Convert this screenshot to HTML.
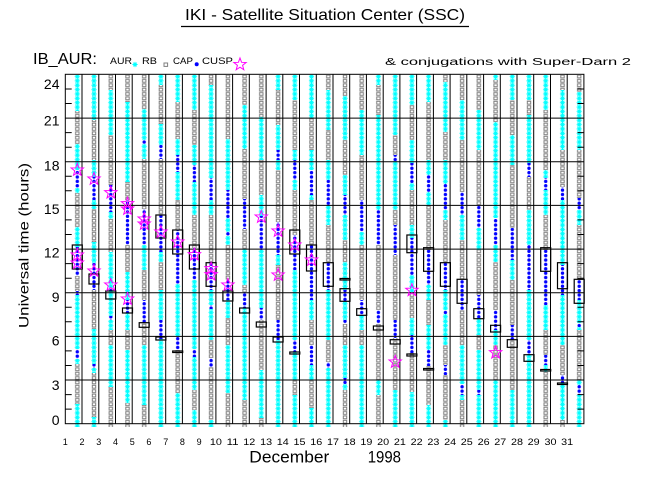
<!DOCTYPE html>
<html><head><meta charset="utf-8"><style>
html,body{margin:0;padding:0;background:#fff;}
svg{display:block}
text{font-family:"Liberation Sans",sans-serif;fill:#000;}
.c{fill:url(#pc)}.g{fill:url(#pg)}.b{fill:url(#pb)}
.bx{fill:none;stroke:#000;stroke-width:1.2}
</style></head><body>
<svg width="650" height="500" viewBox="0 0 650 500" xmlns="http://www.w3.org/2000/svg" xmlns:xlink="http://www.w3.org/1999/xlink">
<defs>
<pattern id="pc" patternUnits="userSpaceOnUse" x="-10" y="74.3" width="20" height="4.37">
<path d="M7.4 2.185H12.6M10 0V4.37M8.2 0.4L11.8 4M11.8 0.4L8.2 4" stroke="#00ffff" stroke-width="1" fill="none"/>
</pattern>
<pattern id="pg" patternUnits="userSpaceOnUse" x="-10" y="74.3" width="20" height="4.37">
<rect x="8.3" y="0.8" width="3.4" height="2.8" fill="#fff" stroke="#7f7f7f" stroke-width="1"/>
</pattern>
<pattern id="pb" patternUnits="userSpaceOnUse" x="-10" y="74.3" width="20" height="4.37">
<circle cx="10" cy="2.185" r="1.7" fill="#0000ff"/>
</pattern>
<path id="s" d="M0,-6.5 L1.59,-2.18 L6.18,-2.01 L2.57,0.83 L3.82,5.26 L0,2.7 L-3.82,5.26 L-2.57,0.83 L-6.18,-2.01 L-1.59,-2.18 Z" fill="none" stroke="#ff00ff" stroke-width="1"/>
</defs>
<rect width="650" height="500" fill="#fff"/>

<text x="185" y="20" font-size="16" textLength="280" lengthAdjust="spacingAndGlyphs">IKI - Satellite Situation Center (SSC)</text>
<line x1="181" y1="26.5" x2="469" y2="26.5" stroke="#000" stroke-width="1.2"/>

<text x="33" y="64" font-size="15.5" textLength="64" lengthAdjust="spacingAndGlyphs">IB_AUR:</text>
<text x="110" y="64" font-size="9.5" textLength="22" lengthAdjust="spacingAndGlyphs">AUR</text>
<path d="M132.4 64.5H137.6M135 61.9V67.1M133.2 62.7L136.8 66.3M136.8 62.7L133.2 66.3" stroke="#00ffff" stroke-width="1"/>
<text x="142" y="64" font-size="9.5" textLength="15" lengthAdjust="spacingAndGlyphs">RB</text>
<rect x="164" y="63" width="3.6" height="3.4" fill="#fff" stroke="#7f7f7f"/>
<text x="173" y="64" font-size="9.5" textLength="20" lengthAdjust="spacingAndGlyphs">CAP</text>
<circle cx="196.7" cy="64.3" r="2" fill="#0000ff"/>
<text x="202" y="64" font-size="9.5" textLength="31" lengthAdjust="spacingAndGlyphs">CUSP</text>
<use xlink:href="#s" x="240" y="64.5"/>
<text x="385" y="65" font-size="10" textLength="246" lengthAdjust="spacingAndGlyphs">&amp; conjugations with Super-Darn 2</text>

<g transform="translate(77.3 0)">
<path class="c" d="M-3.5 75h7V111h-7zM-3.5 144h7V170h-7zM-3.5 188h7V193h-7zM-3.5 227h7V247h-7zM-3.5 295h7V349h-7zM-3.5 359h7V364h-7zM-3.5 404h7V427h-7z"/>
<path class="g" d="M-3.5 111h7V144h-7zM-3.5 193h7V227h-7zM-3.5 276h7V291h-7zM-3.5 364h7V404h-7z"/>
<path class="b" d="M-3.5 170h7V188h-7zM-3.5 247h7V276h-7zM-3.5 291h7V295h-7zM-3.5 349h7V359h-7z"/>
</g>
<g transform="translate(94.0 0)">
<path class="c" d="M-3.5 75h7V120h-7zM-3.5 160h7V177h-7zM-3.5 200h7V209h-7zM-3.5 242h7V263h-7zM-3.5 329h7V364h-7zM-3.5 368h7V373h-7zM-3.5 417h7V427h-7z"/>
<path class="g" d="M-3.5 120h7V160h-7zM-3.5 209h7V242h-7zM-3.5 290h7V329h-7zM-3.5 373h7V417h-7z"/>
<path class="b" d="M-3.5 177h7V200h-7zM-3.5 263h7V290h-7zM-3.5 364h7V368h-7z"/>
</g>
<g transform="translate(110.8 0)">
<path class="c" d="M-3.5 90h7V135h-7zM-3.5 212h7V219h-7zM-3.5 252h7V288h-7zM-3.5 291h7V316h-7zM-3.5 320h7V330h-7zM-3.5 345h7V387h-7z"/>
<path class="g" d="M-3.5 75h7V90h-7zM-3.5 135h7V185h-7zM-3.5 219h7V252h-7zM-3.5 330h7V345h-7zM-3.5 387h7V427h-7z"/>
<path class="b" d="M-3.5 185h7V212h-7zM-3.5 288h7V291h-7zM-3.5 316h7V320h-7z"/>
</g>
<g transform="translate(127.5 0)">
<path class="c" d="M-3.5 102h7V182h-7zM-3.5 272h7V300h-7zM-3.5 313h7V330h-7zM-3.5 350h7V403h-7z"/>
<path class="g" d="M-3.5 75h7V102h-7zM-3.5 182h7V200h-7zM-3.5 245h7V272h-7zM-3.5 330h7V350h-7zM-3.5 403h7V427h-7z"/>
<path class="b" d="M-3.5 200h7V245h-7zM-3.5 300h7V313h-7z"/>
</g>
<g transform="translate(144.2 0)">
<path class="c" d="M-3.5 109h7V140h-7zM-3.5 144h7V159h-7zM-3.5 245h7V270h-7zM-3.5 345h7V405h-7z"/>
<path class="g" d="M-3.5 75h7V109h-7zM-3.5 159h7V209h-7zM-3.5 270h7V300h-7zM-3.5 323h7V345h-7zM-3.5 405h7V427h-7z"/>
<path class="b" d="M-3.5 140h7V144h-7zM-3.5 209h7V245h-7zM-3.5 300h7V323h-7z"/>
</g>
<g transform="translate(160.9 0)">
<path class="c" d="M-3.5 75h7V85h-7zM-3.5 124h7V145h-7zM-3.5 252h7V262h-7zM-3.5 290h7V320h-7zM-3.5 339h7V427h-7z"/>
<path class="g" d="M-3.5 85h7V124h-7zM-3.5 159h7V215h-7zM-3.5 262h7V290h-7z"/>
<path class="b" d="M-3.5 145h7V159h-7zM-3.5 215h7V252h-7zM-3.5 320h7V339h-7z"/>
</g>
<g transform="translate(177.7 0)">
<path class="c" d="M-3.5 75h7V102h-7zM-3.5 139h7V155h-7zM-3.5 172h7V200h-7zM-3.5 284h7V336h-7zM-3.5 393h7V427h-7z"/>
<path class="g" d="M-3.5 102h7V139h-7zM-3.5 200h7V230h-7zM-3.5 350h7V393h-7z"/>
<path class="b" d="M-3.5 155h7V172h-7zM-3.5 230h7V284h-7zM-3.5 336h7V350h-7z"/>
</g>
<g transform="translate(194.4 0)">
<path class="c" d="M-3.5 75h7V110h-7zM-3.5 145h7V165h-7zM-3.5 182h7V215h-7zM-3.5 280h7V349h-7zM-3.5 357h7V390h-7zM-3.5 410h7V427h-7z"/>
<path class="g" d="M-3.5 110h7V145h-7zM-3.5 215h7V248h-7zM-3.5 390h7V410h-7z"/>
<path class="b" d="M-3.5 165h7V182h-7zM-3.5 248h7V280h-7zM-3.5 349h7V357h-7z"/>
</g>
<g transform="translate(211.1 0)">
<path class="c" d="M-3.5 85h7V178h-7zM-3.5 200h7V215h-7zM-3.5 290h7V305h-7zM-3.5 309h7V340h-7zM-3.5 420h7V427h-7z"/>
<path class="g" d="M-3.5 75h7V85h-7zM-3.5 215h7V262h-7zM-3.5 340h7V358h-7zM-3.5 367h7V420h-7z"/>
<path class="b" d="M-3.5 178h7V200h-7zM-3.5 262h7V290h-7zM-3.5 305h7V309h-7zM-3.5 358h7V367h-7z"/>
</g>
<g transform="translate(227.9 0)">
<path class="c" d="M-3.5 139h7V190h-7zM-3.5 218h7V232h-7zM-3.5 236h7V245h-7zM-3.5 300h7V318h-7zM-3.5 345h7V393h-7z"/>
<path class="g" d="M-3.5 75h7V139h-7zM-3.5 245h7V280h-7zM-3.5 318h7V345h-7zM-3.5 393h7V427h-7z"/>
<path class="b" d="M-3.5 190h7V218h-7zM-3.5 232h7V236h-7zM-3.5 280h7V300h-7z"/>
</g>
<g transform="translate(244.6 0)">
<path class="c" d="M-3.5 105h7V149h-7zM-3.5 249h7V285h-7zM-3.5 308h7V400h-7z"/>
<path class="g" d="M-3.5 75h7V105h-7zM-3.5 149h7V199h-7zM-3.5 229h7V249h-7zM-3.5 285h7V292h-7zM-3.5 400h7V427h-7z"/>
<path class="b" d="M-3.5 199h7V229h-7zM-3.5 292h7V308h-7z"/>
</g>
<g transform="translate(261.3 0)">
<path class="c" d="M-3.5 117h7V160h-7zM-3.5 195h7V216h-7zM-3.5 250h7V308h-7zM-3.5 370h7V418h-7z"/>
<path class="g" d="M-3.5 75h7V117h-7zM-3.5 160h7V195h-7zM-3.5 320h7V370h-7zM-3.5 418h7V427h-7z"/>
<path class="b" d="M-3.5 216h7V250h-7zM-3.5 308h7V320h-7z"/>
</g>
<g transform="translate(278.1 0)">
<path class="c" d="M-3.5 75h7V90h-7zM-3.5 125h7V150h-7zM-3.5 160h7V170h-7zM-3.5 255h7V265h-7zM-3.5 340h7V427h-7z"/>
<path class="g" d="M-3.5 90h7V125h-7zM-3.5 170h7V222h-7zM-3.5 265h7V320h-7z"/>
<path class="b" d="M-3.5 150h7V160h-7zM-3.5 222h7V255h-7zM-3.5 320h7V340h-7z"/>
</g>
<g transform="translate(294.8 0)">
<path class="c" d="M-3.5 75h7V100h-7zM-3.5 150h7V160h-7zM-3.5 180h7V190h-7zM-3.5 270h7V340h-7zM-3.5 352h7V380h-7zM-3.5 395h7V427h-7z"/>
<path class="g" d="M-3.5 100h7V150h-7zM-3.5 190h7V235h-7zM-3.5 380h7V395h-7z"/>
<path class="b" d="M-3.5 160h7V180h-7zM-3.5 235h7V270h-7zM-3.5 340h7V352h-7z"/>
</g>
<g transform="translate(311.5 0)">
<path class="c" d="M-3.5 75h7V118h-7zM-3.5 150h7V170h-7zM-3.5 195h7V200h-7zM-3.5 300h7V320h-7zM-3.5 365h7V380h-7zM-3.5 408h7V427h-7z"/>
<path class="g" d="M-3.5 118h7V150h-7zM-3.5 200h7V245h-7zM-3.5 320h7V345h-7zM-3.5 380h7V408h-7z"/>
<path class="b" d="M-3.5 170h7V195h-7zM-3.5 245h7V300h-7zM-3.5 345h7V365h-7z"/>
</g>
<g transform="translate(328.3 0)">
<path class="c" d="M-3.5 90h7V130h-7zM-3.5 160h7V180h-7zM-3.5 205h7V225h-7zM-3.5 290h7V340h-7zM-3.5 368h7V427h-7z"/>
<path class="g" d="M-3.5 75h7V90h-7zM-3.5 130h7V160h-7zM-3.5 225h7V262h-7zM-3.5 340h7V362h-7z"/>
<path class="b" d="M-3.5 180h7V205h-7zM-3.5 262h7V290h-7zM-3.5 362h7V368h-7z"/>
</g>
<g transform="translate(345.0 0)">
<path class="c" d="M-3.5 96h7V140h-7zM-3.5 175h7V195h-7zM-3.5 215h7V240h-7zM-3.5 262h7V290h-7zM-3.5 301h7V320h-7zM-3.5 345h7V378h-7zM-3.5 384h7V390h-7z"/>
<path class="g" d="M-3.5 75h7V96h-7zM-3.5 140h7V175h-7zM-3.5 240h7V262h-7zM-3.5 324h7V345h-7zM-3.5 390h7V427h-7z"/>
<path class="b" d="M-3.5 195h7V215h-7zM-3.5 290h7V301h-7zM-3.5 320h7V324h-7zM-3.5 378h7V384h-7z"/>
</g>
<g transform="translate(361.7 0)">
<path class="c" d="M-3.5 110h7V155h-7zM-3.5 232h7V245h-7zM-3.5 315h7V330h-7zM-3.5 345h7V427h-7z"/>
<path class="g" d="M-3.5 75h7V110h-7zM-3.5 155h7V200h-7zM-3.5 245h7V300h-7zM-3.5 330h7V345h-7z"/>
<path class="b" d="M-3.5 200h7V232h-7zM-3.5 300h7V315h-7z"/>
</g>
<g transform="translate(378.4 0)">
<path class="c" d="M-3.5 75h7V85h-7zM-3.5 115h7V210h-7zM-3.5 380h7V395h-7z"/>
<path class="g" d="M-3.5 85h7V115h-7zM-3.5 245h7V310h-7zM-3.5 324h7V380h-7zM-3.5 395h7V427h-7z"/>
<path class="b" d="M-3.5 210h7V245h-7zM-3.5 310h7V324h-7z"/>
</g>
<g transform="translate(395.2 0)">
<path class="c" d="M-3.5 75h7V135h-7zM-3.5 161h7V210h-7zM-3.5 390h7V427h-7z"/>
<path class="g" d="M-3.5 135h7V155h-7zM-3.5 210h7V225h-7zM-3.5 255h7V320h-7zM-3.5 338h7V390h-7z"/>
<path class="b" d="M-3.5 155h7V161h-7zM-3.5 225h7V255h-7zM-3.5 320h7V338h-7z"/>
</g>
<g transform="translate(411.9 0)">
<path class="c" d="M-3.5 75h7V105h-7zM-3.5 140h7V163h-7zM-3.5 183h7V190h-7zM-3.5 225h7V238h-7zM-3.5 275h7V292h-7zM-3.5 318h7V335h-7zM-3.5 392h7V427h-7z"/>
<path class="g" d="M-3.5 105h7V140h-7zM-3.5 190h7V225h-7zM-3.5 292h7V318h-7zM-3.5 353h7V392h-7z"/>
<path class="b" d="M-3.5 163h7V183h-7zM-3.5 238h7V275h-7zM-3.5 335h7V353h-7z"/>
</g>
<g transform="translate(428.6 0)">
<path class="c" d="M-3.5 75h7V102h-7zM-3.5 160h7V175h-7zM-3.5 192h7V205h-7zM-3.5 285h7V300h-7zM-3.5 325h7V350h-7zM-3.5 405h7V427h-7z"/>
<path class="g" d="M-3.5 102h7V160h-7zM-3.5 205h7V250h-7zM-3.5 300h7V325h-7zM-3.5 366h7V405h-7z"/>
<path class="b" d="M-3.5 175h7V192h-7zM-3.5 250h7V285h-7zM-3.5 350h7V366h-7z"/>
</g>
<g transform="translate(445.4 0)">
<path class="c" d="M-3.5 82h7V132h-7zM-3.5 160h7V184h-7zM-3.5 210h7V220h-7zM-3.5 290h7V310h-7zM-3.5 314h7V345h-7zM-3.5 420h7V427h-7z"/>
<path class="g" d="M-3.5 75h7V82h-7zM-3.5 132h7V160h-7zM-3.5 220h7V262h-7zM-3.5 345h7V365h-7zM-3.5 375h7V420h-7z"/>
<path class="b" d="M-3.5 184h7V210h-7zM-3.5 262h7V290h-7zM-3.5 310h7V314h-7zM-3.5 365h7V375h-7z"/>
</g>
<g transform="translate(462.1 0)">
<path class="c" d="M-3.5 100h7V140h-7zM-3.5 215h7V240h-7zM-3.5 345h7V384h-7zM-3.5 395h7V400h-7z"/>
<path class="g" d="M-3.5 75h7V100h-7zM-3.5 140h7V192h-7zM-3.5 240h7V280h-7zM-3.5 310h7V345h-7zM-3.5 400h7V427h-7z"/>
<path class="b" d="M-3.5 192h7V215h-7zM-3.5 280h7V310h-7zM-3.5 384h7V395h-7z"/>
</g>
<g transform="translate(478.8 0)">
<path class="c" d="M-3.5 110h7V150h-7zM-3.5 228h7V250h-7zM-3.5 318h7V335h-7zM-3.5 350h7V390h-7zM-3.5 395h7V427h-7z"/>
<path class="g" d="M-3.5 75h7V110h-7zM-3.5 150h7V205h-7zM-3.5 250h7V295h-7zM-3.5 335h7V350h-7z"/>
<path class="b" d="M-3.5 205h7V228h-7zM-3.5 295h7V318h-7zM-3.5 390h7V395h-7z"/>
</g>
<g transform="translate(495.6 0)">
<path class="c" d="M-3.5 75h7V80h-7zM-3.5 122h7V218h-7zM-3.5 245h7V262h-7zM-3.5 330h7V345h-7zM-3.5 380h7V427h-7z"/>
<path class="g" d="M-3.5 80h7V122h-7zM-3.5 262h7V310h-7zM-3.5 345h7V380h-7z"/>
<path class="b" d="M-3.5 218h7V245h-7zM-3.5 310h7V330h-7z"/>
</g>
<g transform="translate(512.3 0)">
<path class="c" d="M-3.5 75h7V100h-7zM-3.5 135h7V165h-7zM-3.5 260h7V280h-7zM-3.5 390h7V427h-7z"/>
<path class="g" d="M-3.5 100h7V135h-7zM-3.5 165h7V228h-7zM-3.5 280h7V325h-7zM-3.5 340h7V390h-7z"/>
<path class="b" d="M-3.5 228h7V260h-7zM-3.5 325h7V340h-7z"/>
</g>
<g transform="translate(529.0 0)">
<path class="c" d="M-3.5 75h7V100h-7zM-3.5 115h7V163h-7zM-3.5 210h7V245h-7zM-3.5 290h7V340h-7zM-3.5 355h7V427h-7z"/>
<path class="g" d="M-3.5 100h7V115h-7zM-3.5 177h7V210h-7z"/>
<path class="b" d="M-3.5 163h7V177h-7zM-3.5 245h7V290h-7zM-3.5 340h7V355h-7z"/>
</g>
<g transform="translate(545.7 0)">
<path class="c" d="M-3.5 75h7V110h-7zM-3.5 170h7V178h-7zM-3.5 190h7V215h-7zM-3.5 305h7V330h-7zM-3.5 365h7V372h-7z"/>
<path class="g" d="M-3.5 110h7V170h-7zM-3.5 215h7V250h-7zM-3.5 330h7V355h-7zM-3.5 372h7V427h-7z"/>
<path class="b" d="M-3.5 178h7V190h-7zM-3.5 250h7V305h-7zM-3.5 355h7V365h-7z"/>
</g>
<g transform="translate(562.5 0)">
<path class="c" d="M-3.5 90h7V150h-7zM-3.5 200h7V265h-7zM-3.5 295h7V345h-7zM-3.5 383h7V420h-7z"/>
<path class="g" d="M-3.5 75h7V90h-7zM-3.5 150h7V187h-7zM-3.5 345h7V375h-7zM-3.5 420h7V427h-7z"/>
<path class="b" d="M-3.5 187h7V200h-7zM-3.5 265h7V295h-7zM-3.5 375h7V383h-7z"/>
</g>
<g transform="translate(579.2 0)">
<path class="c" d="M-3.5 92h7V150h-7zM-3.5 210h7V225h-7zM-3.5 300h7V323h-7zM-3.5 327h7V330h-7zM-3.5 380h7V385h-7zM-3.5 395h7V427h-7z"/>
<path class="g" d="M-3.5 75h7V92h-7zM-3.5 150h7V198h-7zM-3.5 225h7V280h-7zM-3.5 330h7V380h-7z"/>
<path class="b" d="M-3.5 198h7V210h-7zM-3.5 280h7V300h-7zM-3.5 323h7V327h-7zM-3.5 385h7V395h-7z"/>
</g>

<g stroke="#000" stroke-width="1" fill="none">
<rect x="65.3" y="74.3" width="518.6" height="349.4"/>
<path d="M82.0 74.3V423.7M98.8 74.3V423.7M115.5 74.3V423.7M132.2 74.3V423.7M148.9 74.3V423.7M165.7 74.3V423.7M182.4 74.3V423.7M199.1 74.3V423.7M215.9 74.3V423.7M232.6 74.3V423.7M249.3 74.3V423.7M266.1 74.3V423.7M282.8 74.3V423.7M299.5 74.3V423.7M316.3 74.3V423.7M333.0 74.3V423.7M349.7 74.3V423.7M366.4 74.3V423.7M383.2 74.3V423.7M399.9 74.3V423.7M416.6 74.3V423.7M433.4 74.3V423.7M450.1 74.3V423.7M466.8 74.3V423.7M483.6 74.3V423.7M500.3 74.3V423.7M517.0 74.3V423.7M533.7 74.3V423.7M550.5 74.3V423.7M567.2 74.3V423.7"/>
<path d="M65.3 118.1H583.9M65.3 161.7H583.9M65.3 205.4H583.9M65.3 249.1H583.9M65.3 292.7H583.9M65.3 336.4H583.9M65.3 380.0H583.9"/>
<path d="M65.3 89.0h6.4M65.3 103.5h6.4M65.3 132.6h6.4M65.3 147.2h6.4M65.3 176.3h6.4M65.3 190.8h6.4M65.3 219.9h6.4M65.3 234.5h6.4M65.3 263.6h6.4M65.3 278.2h6.4M65.3 307.3h6.4M65.3 321.8h6.4M65.3 350.9h6.4M65.3 365.5h6.4M65.3 394.6h6.4M65.3 409.1h6.4"/>
<path d="M583.9 89.0h-6.4M583.9 103.5h-6.4M583.9 132.6h-6.4M583.9 147.2h-6.4M583.9 176.3h-6.4M583.9 190.8h-6.4M583.9 219.9h-6.4M583.9 234.5h-6.4M583.9 263.6h-6.4M583.9 278.2h-6.4M583.9 307.3h-6.4M583.9 321.8h-6.4M583.9 350.9h-6.4M583.9 365.5h-6.4M583.9 394.6h-6.4M583.9 409.1h-6.4"/>
</g>

<g class="bx">
<rect x="72.3" y="245" width="10" height="24"/>
<rect x="89.0" y="274" width="10" height="10"/>
<rect x="105.8" y="291" width="10" height="8"/>
<rect x="122.5" y="308" width="10" height="5"/>
<rect x="139.2" y="322.7" width="10" height="4.6"/>
<rect x="155.9" y="215" width="10" height="23"/>
<rect x="155.9" y="337" width="10" height="3"/>
<rect x="172.7" y="230" width="10" height="24"/>
<rect x="172.7" y="351" width="10" height="1.5"/>
<rect x="189.4" y="245" width="10" height="24"/>
<rect x="206.1" y="262.7" width="10" height="23.6"/>
<rect x="222.9" y="291" width="10" height="10"/>
<rect x="239.6" y="308" width="10" height="5"/>
<rect x="256.3" y="322" width="10" height="5"/>
<rect x="273.1" y="337" width="10" height="5"/>
<rect x="289.8" y="230" width="10" height="24"/>
<rect x="289.8" y="352" width="10" height="2"/>
<rect x="306.5" y="245" width="10" height="26"/>
<rect x="323.3" y="262.7" width="10" height="23.6"/>
<rect x="340.0" y="278.5" width="10" height="1.5"/>
<rect x="340.0" y="288.7" width="10" height="12.6"/>
<rect x="356.7" y="308.7" width="10" height="6.6"/>
<rect x="373.4" y="326" width="10" height="4"/>
<rect x="390.2" y="339.7" width="10" height="4.3"/>
<rect x="406.9" y="235" width="10" height="17.7"/>
<rect x="406.9" y="354" width="10" height="2"/>
<rect x="423.6" y="247.7" width="10" height="23.6"/>
<rect x="423.6" y="368.5" width="10" height="1.5"/>
<rect x="440.4" y="262.7" width="10" height="23.6"/>
<rect x="457.1" y="279.3" width="10" height="24"/>
<rect x="473.8" y="308.7" width="10" height="10"/>
<rect x="490.6" y="325.3" width="10" height="6.7"/>
<rect x="507.3" y="339.7" width="10" height="7.6"/>
<rect x="524.0" y="354.7" width="10" height="6.6"/>
<rect x="540.7" y="247.7" width="10" height="23.6"/>
<rect x="540.7" y="369.5" width="10" height="1.5"/>
<rect x="557.5" y="262.7" width="10" height="26"/>
<rect x="557.5" y="383" width="10" height="1.5"/>
<rect x="574.2" y="279.3" width="10" height="24"/>
</g>

<use xlink:href="#s" x="77.3" y="170"/>
<use xlink:href="#s" x="77.3" y="255"/>
<use xlink:href="#s" x="77.3" y="263"/>
<use xlink:href="#s" x="94.0" y="179"/>
<use xlink:href="#s" x="94.0" y="271"/>
<use xlink:href="#s" x="110.8" y="192.7"/>
<use xlink:href="#s" x="110.8" y="285"/>
<use xlink:href="#s" x="127.5" y="203.7"/>
<use xlink:href="#s" x="127.5" y="209"/>
<use xlink:href="#s" x="127.5" y="299"/>
<use xlink:href="#s" x="144.2" y="219"/>
<use xlink:href="#s" x="144.2" y="224"/>
<use xlink:href="#s" x="160.9" y="232"/>
<use xlink:href="#s" x="177.7" y="242"/>
<use xlink:href="#s" x="194.4" y="254.7"/>
<use xlink:href="#s" x="211.1" y="268.7"/>
<use xlink:href="#s" x="211.1" y="274.7"/>
<use xlink:href="#s" x="227.9" y="285"/>
<use xlink:href="#s" x="261.3" y="217"/>
<use xlink:href="#s" x="278.1" y="231"/>
<use xlink:href="#s" x="278.1" y="275"/>
<use xlink:href="#s" x="294.8" y="245"/>
<use xlink:href="#s" x="311.5" y="260"/>
<use xlink:href="#s" x="395.2" y="362"/>
<use xlink:href="#s" x="411.9" y="290.3"/>
<use xlink:href="#s" x="495.6" y="352.7"/>

<g font-size="14" text-anchor="end">
<text x="59.5" y="89">24</text>
<text x="59.5" y="125.7">21</text>
<text x="59.5" y="170.7">18</text>
<text x="59.5" y="214">15</text>
<text x="59.5" y="257.7">12</text>
<text x="59.5" y="302">9</text>
<text x="59.5" y="345.5">6</text>
<text x="59.5" y="390">3</text>
<text x="59.5" y="425">0</text>
</g>
<text transform="translate(28.5 245.5) rotate(-90)" font-size="14" text-anchor="middle" textLength="165" lengthAdjust="spacingAndGlyphs">Universal time (hours)</text>

<g font-size="9" text-anchor="middle">
<text x="65.3" y="445">1</text>
<text x="82.0" y="445">2</text>
<text x="98.8" y="445">3</text>
<text x="115.5" y="445">4</text>
<text x="132.2" y="445">5</text>
<text x="148.9" y="445">6</text>
<text x="165.7" y="445">7</text>
<text x="182.4" y="445">8</text>
<text x="199.1" y="445">9</text>
<text x="215.9" y="445" textLength="12" lengthAdjust="spacingAndGlyphs">10</text>
<text x="232.6" y="445" textLength="12" lengthAdjust="spacingAndGlyphs">11</text>
<text x="249.3" y="445" textLength="12" lengthAdjust="spacingAndGlyphs">12</text>
<text x="266.1" y="445" textLength="12" lengthAdjust="spacingAndGlyphs">13</text>
<text x="282.8" y="445" textLength="12" lengthAdjust="spacingAndGlyphs">14</text>
<text x="299.5" y="445" textLength="12" lengthAdjust="spacingAndGlyphs">15</text>
<text x="316.3" y="445" textLength="12" lengthAdjust="spacingAndGlyphs">16</text>
<text x="333.0" y="445" textLength="12" lengthAdjust="spacingAndGlyphs">17</text>
<text x="349.7" y="445" textLength="12" lengthAdjust="spacingAndGlyphs">18</text>
<text x="366.4" y="445" textLength="12" lengthAdjust="spacingAndGlyphs">19</text>
<text x="383.2" y="445" textLength="12" lengthAdjust="spacingAndGlyphs">20</text>
<text x="399.9" y="445" textLength="12" lengthAdjust="spacingAndGlyphs">21</text>
<text x="416.6" y="445" textLength="12" lengthAdjust="spacingAndGlyphs">22</text>
<text x="433.4" y="445" textLength="12" lengthAdjust="spacingAndGlyphs">23</text>
<text x="450.1" y="445" textLength="12" lengthAdjust="spacingAndGlyphs">24</text>
<text x="466.8" y="445" textLength="12" lengthAdjust="spacingAndGlyphs">25</text>
<text x="483.6" y="445" textLength="12" lengthAdjust="spacingAndGlyphs">26</text>
<text x="500.3" y="445" textLength="12" lengthAdjust="spacingAndGlyphs">27</text>
<text x="517.0" y="445" textLength="12" lengthAdjust="spacingAndGlyphs">28</text>
<text x="533.7" y="445" textLength="12" lengthAdjust="spacingAndGlyphs">29</text>
<text x="550.5" y="445" textLength="12" lengthAdjust="spacingAndGlyphs">30</text>
<text x="567.2" y="445" textLength="12" lengthAdjust="spacingAndGlyphs">31</text>
</g>
<text x="249.3" y="462.3" font-size="17" textLength="80" lengthAdjust="spacingAndGlyphs">December</text>
<text x="367.7" y="462.3" font-size="17" textLength="33.3" lengthAdjust="spacingAndGlyphs">1998</text>
</svg>
</body></html>
